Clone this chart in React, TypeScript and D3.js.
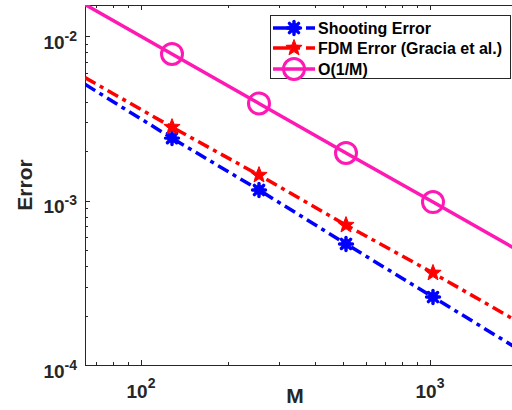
import React from 'react';
import * as d3 from 'd3';

// sample sizes and errors (log-log)
const M = [64, 128, 256, 512, 1024, 2048];
const shootingError = [5.1e-3, 2.4e-3, 1.16e-3, 5.45e-4, 2.59e-4, 1.23e-4];
const fdmError = [5.6e-3, 2.8e-3, 1.43e-3, 7.1e-4, 3.63e-4, 1.8e-4];
const orderRef = [0.0156, 0.0078, 0.0039, 0.00195, 0.00098, 0.00049];
const markerIdx = [1, 2, 3, 4];

const xTicks = [100, 1000];
const xTickExp = ['2', '3'];
const yTicks = [1e-4, 1e-3, 1e-2];
const yTickExp = ['-4', '-3', '-2'];
const legendLabels = ['Shooting Error', 'FDM Error (Gracia et al.)', 'O(1/M)'];

const W = 512;
const H = 410;
const plot = { left: 85, right: 520, top: 5, bottom: 365 };
const FONT = '"Liberation Sans", Arial, Helvetica, sans-serif';
const AX = '#262626';

const BLUE = '#0000ff';
const RED = '#ff0000';
const PINK = '#ff19b4';
const DASHDOT = '12,5,4,5';

function Asterisk({ x, y, color }: { x: number; y: number; color: string }) {
    const r = 6.5;
    const spokes = d3.range(8).map(i => (i * Math.PI) / 4);
    return (
        <g>
            <circle cx={x} cy={y} r={5} fill={color} />
            {spokes.map((a, i) => (
                <line key={i} x1={x} y1={y} x2={x + r * Math.cos(a)} y2={y + r * Math.sin(a)}
                    stroke={color} strokeWidth={3.4} strokeLinecap="round" />
            ))}
        </g>
    );
}

function Pentagram({ x, y, color }: { x: number; y: number; color: string }) {
    const outer = 8.5;
    const inner = 3.6;
    const pts = d3.range(10).map(i => {
        const a = -Math.PI / 2 + (i * Math.PI) / 5;
        const rr = i % 2 === 0 ? outer : inner;
        return [x + rr * Math.cos(a), y + rr * Math.sin(a)];
    });
    return <polygon points={pts.map(p => p.join(',')).join(' ')} fill={color} stroke={color} strokeWidth={1} />;
}

function Ring({ x, y, color }: { x: number; y: number; color: string }) {
    return <circle cx={x} cy={y} r={10.5} fill="none" stroke={color} strokeWidth={3} />;
}

export default function App() {
    const xScale = d3.scaleLog().domain([64, 2048]).range([plot.left, plot.right]);
    const yScale = d3.scaleLog().domain([1e-4, Math.pow(10, -1.81)]).range([plot.bottom, plot.top]);

    const line = d3.line<number>()
        .x((_, i) => xScale(M[i]))
        .y(d => yScale(d));

    const series = [
        { values: shootingError, color: BLUE, dash: DASHDOT, Marker: Asterisk },
        { values: fdmError, color: RED, dash: DASHDOT, Marker: Pentagram },
        { values: orderRef, color: PINK, dash: undefined, Marker: Ring },
    ];

    // minor ticks
    const xMinor: number[] = [];
    [10, 100, 1000].forEach(dec => {
        for (let k = 2; k <= 9; k++) {
            const v = k * dec;
            if (v > 64 && v < 2048 && v !== 100 && v !== 1000) xMinor.push(v);
        }
    });
    const yMinor: number[] = [];
    [1e-4, 1e-3].forEach(dec => {
        for (let k = 2; k <= 9; k++) yMinor.push(k * dec);
    });

    const legendX = 270;
    const legendY = 15;
    const rowY = [28, 48, 69];

    return (
        <svg width={W} height={H} style={{ position: 'absolute', left: 0, top: 0, background: '#fff' }}>
            <defs>
                <clipPath id="plotClip">
                    <rect x={plot.left} y={plot.top} width={plot.right - plot.left} height={plot.bottom - plot.top} />
                </clipPath>
            </defs>
            <rect x={0} y={0} width={W} height={H} fill="#fff" />

            {/* axes box */}
            <g stroke={AX} strokeWidth={1} fill="none">
                <line x1={plot.left} y1={plot.bottom + 0.5} x2={plot.right} y2={plot.bottom + 0.5} />
                <line x1={plot.left} y1={plot.top + 0.5} x2={plot.right} y2={plot.top + 0.5} />
                <line x1={plot.left + 0.5} y1={plot.top} x2={plot.left + 0.5} y2={plot.bottom} />
                <line x1={plot.right - 0.5} y1={plot.top} x2={plot.right - 0.5} y2={plot.bottom} />
                {xTicks.map(v => (
                    <g key={'xt' + v}>
                        <line x1={Math.round(xScale(v)) + 0.5} x2={Math.round(xScale(v)) + 0.5} y1={plot.bottom} y2={plot.bottom - 5} />
                        <line x1={Math.round(xScale(v)) + 0.5} x2={Math.round(xScale(v)) + 0.5} y1={plot.top} y2={plot.top + 5} />
                    </g>
                ))}
                {xMinor.map(v => (
                    <g key={'xm' + v}>
                        <line x1={Math.round(xScale(v)) + 0.5} x2={Math.round(xScale(v)) + 0.5} y1={plot.bottom} y2={plot.bottom - 3} />
                        <line x1={Math.round(xScale(v)) + 0.5} x2={Math.round(xScale(v)) + 0.5} y1={plot.top} y2={plot.top + 3} />
                    </g>
                ))}
                {yTicks.map(v => (
                    <line key={'yt' + v} x1={plot.left} x2={plot.left + 5} y1={Math.round(yScale(v)) + 0.5} y2={Math.round(yScale(v)) + 0.5} />
                ))}
                {yMinor.map(v => (
                    <line key={'ym' + v} x1={plot.left} x2={plot.left + 3} y1={Math.round(yScale(v)) + 0.5} y2={Math.round(yScale(v)) + 0.5} />
                ))}
            </g>

            {/* tick labels */}
            <g fontFamily={FONT} fontWeight="bold" fill={AX}>
                {xTicks.map((v, i) => (
                    <text key={'xl' + v} x={xScale(v)} y={398} fontSize={19} textAnchor="middle">
                        10<tspan fontSize={14} dy={-10}>{xTickExp[i]}</tspan>
                    </text>
                ))}
                {yTicks.map((v, i) => (
                    <text key={'yl' + v} x={77} y={yScale(v) + 12.5} fontSize={19} textAnchor="end">
                        10<tspan fontSize={14} dy={-8}>{yTickExp[i]}</tspan>
                    </text>
                ))}
                <text x={295} y={403} fontSize={21} textAnchor="middle">M</text>
                <text transform={`translate(32,${(plot.top + plot.bottom) / 2}) rotate(-90)`} fontSize={21} textAnchor="middle">Error</text>
            </g>

            {/* series */}
            <g clipPath="url(#plotClip)">
                {series.map((s, si) => (
                    <path key={'l' + si} d={line(s.values) || ''} fill="none" stroke={s.color}
                        strokeWidth={3.5} strokeDasharray={s.dash} />
                ))}
                {series.map((s, si) =>
                    markerIdx.map(i => (
                        <s.Marker key={'m' + si + '-' + i} x={xScale(M[i])} y={yScale(s.values[i])} color={s.color} />
                    ))
                )}
            </g>

            {/* legend */}
            <g>
                <rect x={legendX + 0.5} y={legendY + 0.5} width={240} height={63} fill="#fff" stroke={AX} strokeWidth={1} />
                {series.map((s, si) => (
                    <g key={'lg' + si}>
                        <line x1={273} x2={315} y1={rowY[si]} y2={rowY[si]} stroke={s.color} strokeWidth={3.5}
                            strokeDasharray={s.dash ? '17,6,4,6' : undefined} />
                        <s.Marker x={294} y={rowY[si]} color={s.color} />
                        <text x={318} y={rowY[si] + 6} fontFamily={FONT} fontWeight="bold" fontSize={16} fill="#000">
                            {legendLabels[si]}
                        </text>
                    </g>
                ))}
            </g>
        </svg>
    );
}
